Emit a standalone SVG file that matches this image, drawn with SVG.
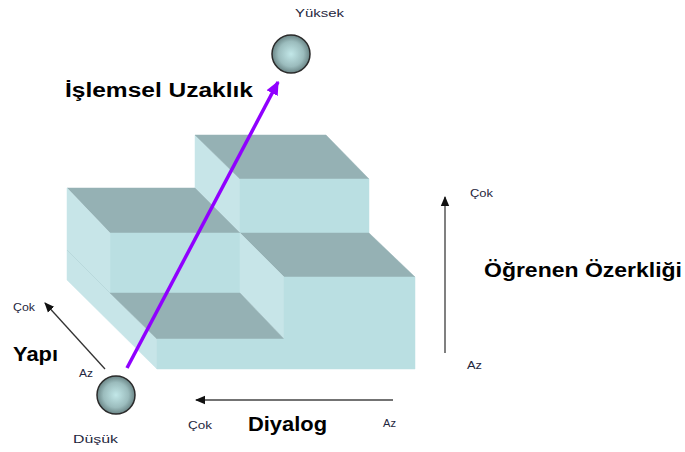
<svg xmlns="http://www.w3.org/2000/svg" width="685" height="452" viewBox="0 0 685 452">
<defs>
<style>
.top{fill:#95b1b4;stroke:#95b1b4;stroke-width:0.5}
.front{fill:#badfe2;stroke:#badfe2;stroke-width:0.5}
.side{fill:#c7e5e8;stroke:#c7e5e8;stroke-width:0.5}
.big{font-family:"Liberation Sans",Arial,sans-serif;font-weight:bold;font-size:20px;fill:#000}
.small{font-family:"Liberation Sans",Arial,sans-serif;font-size:11.5px;fill:#1f2740}
.ball{fill:url(#ballGrad);stroke:#2a2a2a;stroke-width:1.5}
</style>
<radialGradient id="ballGrad" cx="0.5" cy="0.5" r="0.55">
<stop offset="0" stop-color="#c2e7e8"/>
<stop offset="0.6" stop-color="#9bbcbd"/>
<stop offset="1" stop-color="#5b7475"/>
</radialGradient>
<marker id="blackHead" markerUnits="userSpaceOnUse" markerWidth="10" markerHeight="10" viewBox="0 0 10 10" refX="9" refY="5" orient="auto">
<path d="M0,0.8 L10,5 L0,9.2 Z" fill="#111"/>
</marker>
<marker id="purpleHead" markerUnits="userSpaceOnUse" markerWidth="14" markerHeight="14" viewBox="0 0 10 10" refX="9" refY="5" orient="auto">
<path d="M0,0.5 L10,5 L0,9.5 Z" fill="#9000ff"/>
</marker>
</defs>

<g id="blocks">
<polygon class="side" points="195,135 240,179 240,233 195,188"/>
<polygon class="top" points="195,135 326,135 369,179 240,179"/>
<polygon class="front" points="240,179 369,179 369,233 240,233"/>
<polygon class="top" points="67,188 195,188 240,233 110,233"/>
<polygon class="front" points="110,233 240,233 240,293 110,293"/>
<polygon class="side" points="67,188 110,233 110,293 157,339 157,369 67,280"/>
<line x1="67" y1="250" x2="110" y2="293" stroke="#b9d9dc" stroke-width="1"/>
<polygon class="top" points="240,233 369,233 415,277 284,277"/>
<polygon class="side" points="240,233 284,277 284,339 240,293"/>
<polygon class="top" points="110,293 240,293 284,339 157,339"/>
<polygon class="front" points="157,339 284,339 284,277 415,277 415,369 157,369"/>
</g>

<g id="connectors">
<line id="purple-arrow" x1="127" y1="368" x2="278" y2="82" stroke="#9000ff" stroke-width="3.5" marker-end="url(#purpleHead)"/>
<line id="yapi-arrow" x1="105" y1="369" x2="45" y2="303" stroke="#333" stroke-width="1.3" marker-end="url(#blackHead)"/>
<line id="diyalog-arrow" x1="393" y1="400" x2="196" y2="400" stroke="#444" stroke-width="1.5" marker-end="url(#blackHead)"/>
<line id="ozerklik-arrow" x1="445" y1="353" x2="445" y2="197" stroke="#808080" stroke-width="2" marker-end="url(#blackHead)"/>
</g>

<g id="node-yuksek">
<circle class="ball" cx="291" cy="54" r="19"/>
<text class="small" x="295" y="17" font-size="12" textLength="49" lengthAdjust="spacingAndGlyphs">Yüksek</text>
</g>

<g id="node-dusuk">
<circle class="ball" cx="116" cy="395" r="19"/>
<text class="small" x="73" y="443" font-size="12" textLength="45" lengthAdjust="spacingAndGlyphs">Düşük</text>
</g>

<g id="labels">
<text class="big" x="65" y="97" textLength="188" lengthAdjust="spacingAndGlyphs">İşlemsel Uzaklık</text>
<text class="big" x="13" y="361" textLength="45" lengthAdjust="spacingAndGlyphs">Yapı</text>
<text class="big" x="248" y="431" textLength="79" lengthAdjust="spacingAndGlyphs">Diyalog</text>
<text class="big" x="484" y="277" font-size="22" textLength="198" lengthAdjust="spacingAndGlyphs">Öğrenen Özerkliği</text>
<text class="small" x="13" y="311" textLength="22" lengthAdjust="spacingAndGlyphs">Çok</text>
<text class="small" x="79" y="377" textLength="14" lengthAdjust="spacingAndGlyphs">Az</text>
<text class="small" x="188" y="429" textLength="24" lengthAdjust="spacingAndGlyphs">Çok</text>
<text class="small" x="383" y="427" textLength="13" lengthAdjust="spacingAndGlyphs">Az</text>
<text class="small" x="470" y="197" textLength="23" lengthAdjust="spacingAndGlyphs">Çok</text>
<text class="small" x="467" y="369" textLength="15" lengthAdjust="spacingAndGlyphs">Az</text>
</g>
</svg>
